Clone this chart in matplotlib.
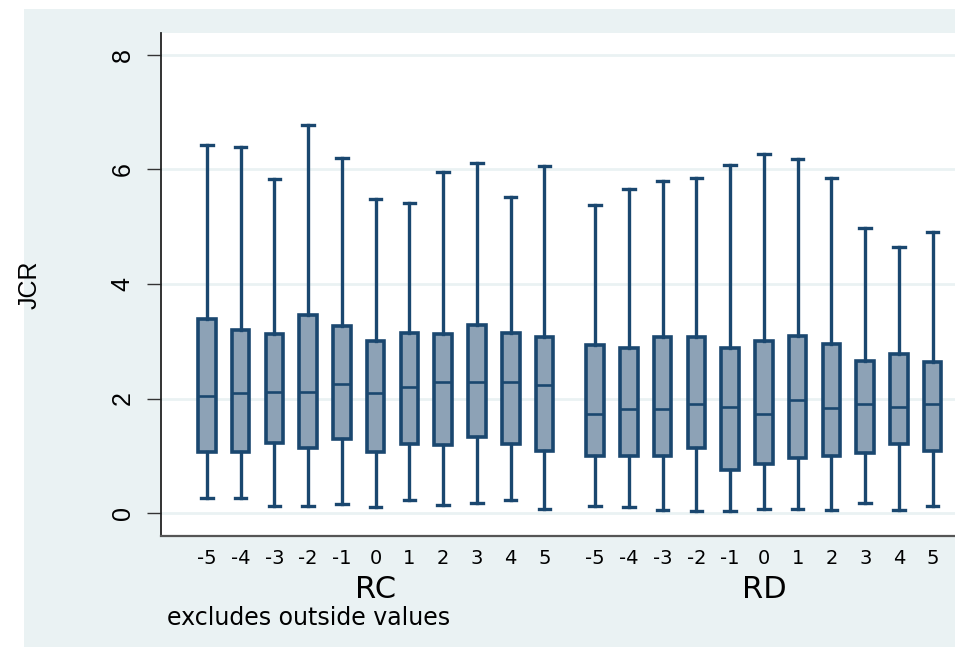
import matplotlib
matplotlib.use("Agg")
import matplotlib.pyplot as plt
from matplotlib.patches import Rectangle

# Event-time categories and the two groups
offsets = ["-5", "-4", "-3", "-2", "-1", "0", "1", "2", "3", "4", "5"]
groups = ["RC", "RD"]

# Box-plot summaries of JCR (outside values excluded)
rc_whislo = [0.26, 0.26, 0.12, 0.13, 0.16, 0.10, 0.23, 0.14, 0.17, 0.23, 0.07]
rc_q1 = [1.07, 1.07, 1.23, 1.14, 1.30, 1.07, 1.21, 1.19, 1.32, 1.21, 1.08]
rc_med = [2.05, 2.10, 2.11, 2.11, 2.25, 2.10, 2.20, 2.28, 2.29, 2.28, 2.24]
rc_q3 = [3.39, 3.20, 3.13, 3.46, 3.27, 3.01, 3.14, 3.13, 3.28, 3.15, 3.08]
rc_whishi = [6.42, 6.39, 5.83, 6.78, 6.19, 5.49, 5.41, 5.96, 6.11, 5.52, 6.06]

rd_whislo = [0.13, 0.10, 0.06, 0.03, 0.03, 0.08, 0.08, 0.06, 0.17, 0.06, 0.12]
rd_q1 = [1.00, 1.00, 1.00, 1.14, 0.75, 0.86, 0.96, 1.00, 1.05, 1.20, 1.08]
rd_med = [1.73, 1.81, 1.82, 1.90, 1.86, 1.73, 1.98, 1.83, 1.90, 1.86, 1.90]
rd_q3 = [2.94, 2.89, 3.07, 3.07, 2.89, 3.01, 3.09, 2.96, 2.66, 2.78, 2.63]
rd_whishi = [5.37, 5.66, 5.79, 5.85, 6.07, 6.26, 6.18, 5.85, 4.97, 4.65, 4.90]

y_ticks = [0, 2, 4, 6, 8]

navy = "#1a476f"
fill = "#8da2b6"
panel = "#eaf2f3"
font = "DejaVu Sans"

W, H = 955, 647
fig = plt.figure(figsize=(W / 100, H / 100), dpi=100)
fig.patch.set_facecolor("white")
fig.add_artist(Rectangle((24 / W, 0), 1 - 24 / W, (H - 9) / H,
                         transform=fig.transFigure, facecolor=panel,
                         edgecolor="none", zorder=-10))

ax = fig.add_axes([161 / W, (H - 536) / H, 1 - 161 / W, (536 - 33) / H])
ax.set_zorder(1)
ax.set_facecolor("white")

stats = []
positions = []
series = [(rc_whislo, rc_q1, rc_med, rc_q3, rc_whishi),
          (rd_whislo, rd_q1, rd_med, rd_q3, rd_whishi)]
for g, (lo, q1, med, q3, hi) in enumerate(series):
    for i in range(len(offsets)):
        stats.append(dict(whislo=lo[i], q1=q1[i], med=med[i], q3=q3[i],
                          whishi=hi[i], fliers=[]))
        positions.append(i + g * (len(offsets) + 0.5))

ax.bxp(stats, positions=positions, widths=0.52, patch_artist=True,
       showfliers=False,
       boxprops=dict(facecolor=fill, edgecolor=navy, linewidth=2.6),
       medianprops=dict(color=navy, linewidth=1.9),
       whiskerprops=dict(color=navy, linewidth=2.4),
       capprops=dict(color=navy, linewidth=2.4),
       capwidths=0.34, zorder=3)

ax.set_xlim(-1.36, 22.16)
ax.set_ylim(-0.40, 8.38)

ax.set_yticks(y_ticks)
ax.set_yticklabels([str(t) for t in y_ticks], rotation=90, va="center",
                   fontsize=18, family="Liberation Sans")
ax.tick_params(axis="y", length=10, width=1.0, color="#333333", pad=9)
ax.yaxis.grid(True, color=panel, linewidth=2.0, zorder=0)
ax.set_axisbelow(True)

ax.set_xticks(positions)
ax.set_xticklabels(offsets * 2, fontsize=14, family=font)
ax.tick_params(axis="x", length=0, pad=9)

for side in ("top", "right"):
    ax.spines[side].set_visible(False)
ax.spines["left"].set_color("#222222")
ax.spines["bottom"].set_color("#555555")
ax.spines["left"].set_linewidth(1.3)
ax.spines["bottom"].set_linewidth(1.6)

# Group captions centred under each block of boxes
trans = ax.get_xaxis_transform()
for g, name in enumerate(groups):
    x_center = (len(offsets) - 1) / 2 + g * (len(offsets) + 0.5)
    ax.annotate(name, xy=(x_center, 0), xycoords=trans,
                xytext=(0, -(590 - 536)), textcoords="offset pixels",
                fontsize=22, family=font,
                ha="center", va="center", annotation_clip=False)

fig.text(30 / W, (H - 285) / H, "JCR", rotation=90, fontsize=18,
         family="Liberation Sans", ha="center", va="center")
fig.text(167 / W, (H - 618) / H, "excludes outside values", fontsize=17,
         family=font, ha="left", va="center")

fig.savefig("out.png", dpi=100, facecolor=fig.get_facecolor())
